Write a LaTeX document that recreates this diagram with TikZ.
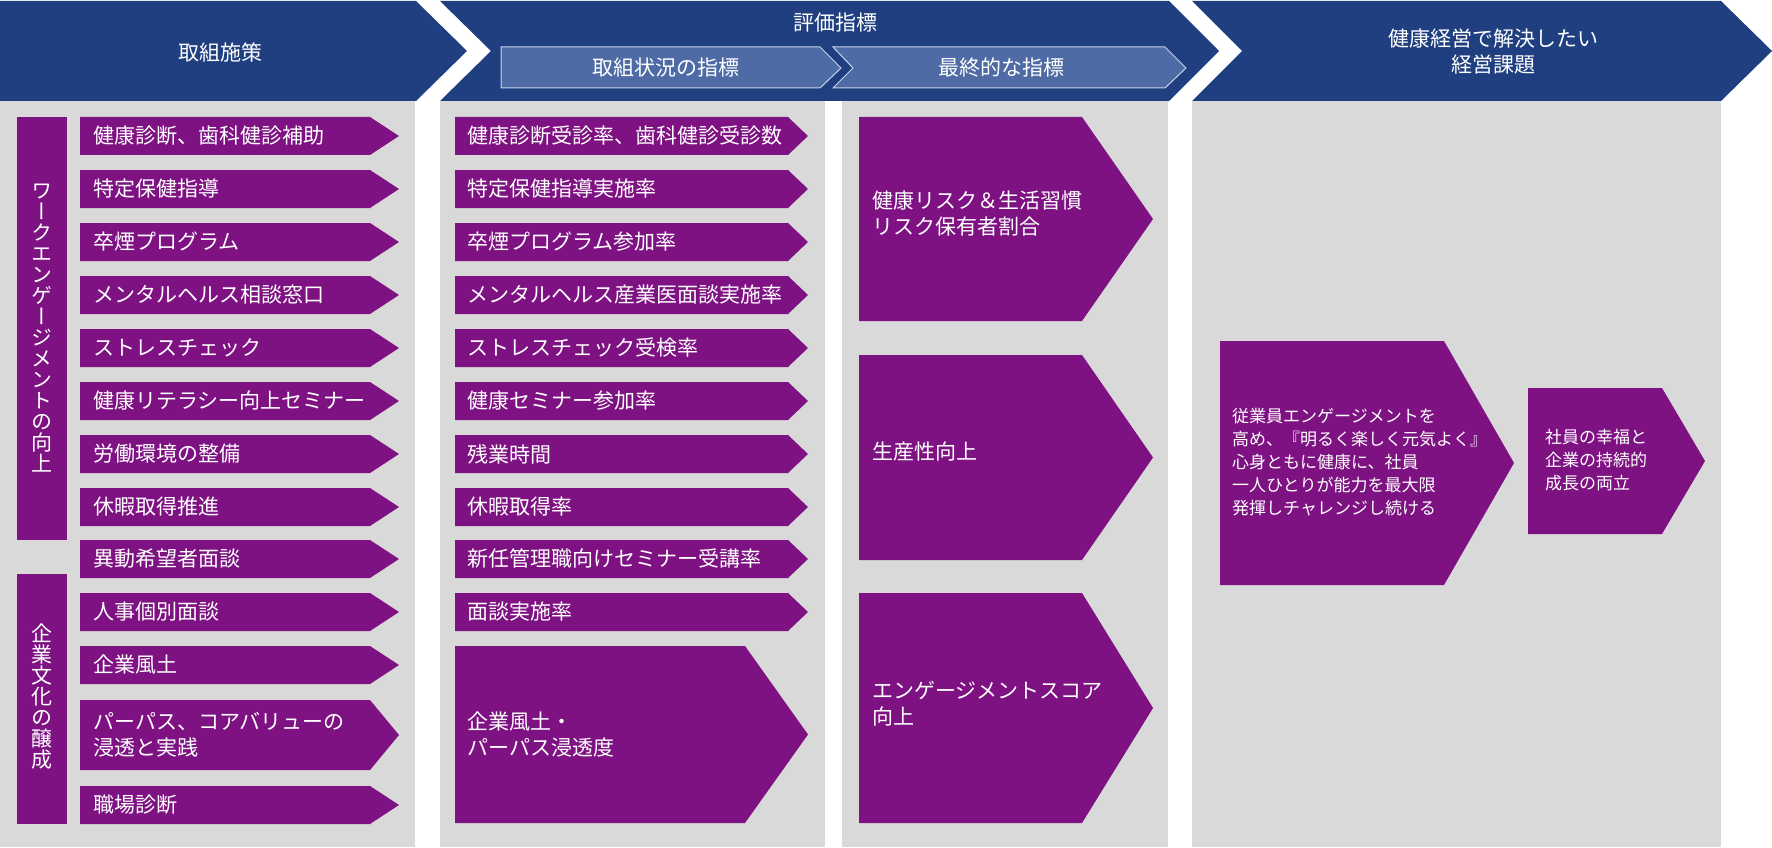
\documentclass[tikz,border=0pt]{standalone}
\usepackage{fontspec}
\setmainfont{Noto Sans CJK JP}
\newfontfamily\vjp[RawFeature=+vert]{Noto Sans CJK JP}
\usepackage{tikz}
\definecolor{colorHead}{HTML}{1F3F80}
\definecolor{colorSub}{HTML}{4E6BA5}
\definecolor{colorSubLine}{HTML}{C9D2E6}
\definecolor{colorItem}{HTML}{7F1283}
\definecolor{colorPanel}{HTML}{D9D9D9}
\tikzset{
   head/.style={fill=colorHead},
   sub/.style={fill=colorSub, draw=colorSubLine, line width=1pt},
   panel/.style={fill=colorPanel},
   item/.style={fill=colorItem},
   txt/.style={text=white, inner sep=0pt, align=left, anchor=west, font=\fontsize{21}{26}\selectfont},
   htxt/.style={text=white, inner sep=0pt, align=center, font=\fontsize{21}{26}\selectfont},
   stxt/.style={text=white, inner sep=0pt, align=left, anchor=west, font=\fontsize{17}{23}\selectfont},
   vtxt/.style={text=white, inner sep=0pt, align=center, font=\vjp\fontsize{21}{21}\selectfont},
}
% left, top, body end, tip, bottom
\newcommand{\arrbox}[6][item]{\fill[#1] (#2,#3) -- (#4,#3) -- (#5,{(#3+#6)/2}) -- (#4,#6) -- (#2,#6) -- cycle;}
\begin{document}
\begin{tikzpicture}[x=1pt, y=-1pt]
\useasboundingbox (0,0) rectangle (1772,848);

% header
\fill[head] (0,1) -- (416,1) -- (467,51) -- (416,101) -- (0,101) -- cycle;
\fill[head] (440,1) -- (1169,1) -- (1219,51) -- (1169,101) -- (440,101) -- (491,51) -- cycle;
\fill[head] (1192,1) -- (1721,1) -- (1772,51) -- (1721,101) -- (1192,101) -- (1242,51) -- cycle;
\draw[sub] (501,47) -- (820,47) -- (841,68) -- (820,88) -- (501,88) -- cycle;
\draw[sub] (833,47) -- (1165,47) -- (1186,68) -- (1165,88) -- (833,88) -- (853,68) -- cycle;

\node[htxt] (hAct) at (220,52) {取組施策};
\node[htxt] (hEval) at (835,23) {評価指標};
\node[htxt] (hSub1) at (666,68) {取組状況の指標};
\node[htxt] (hSub2) at (1001,68) {最終的な指標};
\node[htxt] (hGoal) at (1493,52) {健康経営で解決したい\\経営課題};

% panels
\fill[panel] (0,101) rectangle (415,847);
\fill[panel] (440,101) rectangle (825,847);
\fill[panel] (842,101) rectangle (1168,847);
\fill[panel] (1192,101) rectangle (1721,847);

% groups
\fill[item] (17,117) rectangle (67,540);
\fill[item] (17,574) rectangle (67,824);
\node[vtxt] (grpWE) at (42,328) {ワ\\ー\\ク\\エ\\ン\\ゲ\\ー\\ジ\\メ\\ン\\ト\\の\\向\\上};
\node[vtxt] (grpCult) at (42,697) {企\\業\\文\\化\\の\\醸\\成};

% actions
\arrbox{80}{117}{370}{399}{155}
\arrbox{80}{170}{370}{399}{208}
\arrbox{80}{223}{370}{399}{261}
\arrbox{80}{276}{370}{399}{314}
\arrbox{80}{329}{370}{399}{367}
\arrbox{80}{382}{370}{399}{420}
\arrbox{80}{435}{370}{399}{473}
\arrbox{80}{488}{370}{399}{526}
\arrbox{80}{540}{370}{399}{578}
\arrbox{80}{593}{370}{399}{631}
\arrbox{80}{646}{370}{399}{684}
\arrbox{80}{700}{370}{399}{770}
\arrbox{80}{786}{370}{399}{824}
\begin{scope}[every node/.style={txt}]
  \node (act1) at (93,136) {健康診断、歯科健診補助};
  \node (act2) at (93,189) {特定保健指導};
  \node (act3) at (93,242) {卒煙プログラム};
  \node (act4) at (93,295) {メンタルヘルス相談窓口};
  \node (act5) at (93,348) {ストレスチェック};
  \node (act6) at (93,401) {健康リテラシー向上セミナー};
  \node (act7) at (93,454) {労働環境の整備};
  \node (act8) at (93,507) {休暇取得推進};
  \node (act9) at (93,559) {異動希望者面談};
  \node (act10) at (93,612) {人事個別面談};
  \node (act11) at (93,665) {企業風土};
  \node (act12) at (93,735) {パーパス、コアバリューの\\浸透と実践};
  \node (act13) at (93,805) {職場診断};
\end{scope}

% process indicators
\arrbox{455}{117}{788}{808}{155}
\arrbox{455}{170}{788}{808}{208}
\arrbox{455}{223}{788}{808}{261}
\arrbox{455}{276}{788}{808}{314}
\arrbox{455}{329}{788}{808}{367}
\arrbox{455}{382}{788}{808}{420}
\arrbox{455}{435}{788}{808}{473}
\arrbox{455}{488}{788}{808}{526}
\arrbox{455}{540}{788}{808}{578}
\arrbox{455}{593}{788}{808}{631}
\arrbox{455}{646}{745}{808}{823}
\begin{scope}[every node/.style={txt}]
  \node (kpi1) at (467,136) {健康診断受診率、歯科健診受診数};
  \node (kpi2) at (467,189) {特定保健指導実施率};
  \node (kpi3) at (467,242) {卒煙プログラム参加率};
  \node (kpi4) at (467,295) {メンタルヘルス産業医面談実施率};
  \node (kpi5) at (467,348) {ストレスチェック受検率};
  \node (kpi6) at (467,401) {健康セミナー参加率};
  \node (kpi7) at (467,454) {残業時間};
  \node (kpi8) at (467,507) {休暇取得率};
  \node (kpi9) at (467,559) {新任管理職向けセミナー受講率};
  \node (kpi10) at (467,612) {面談実施率};
  \node (kpi11) at (467,735) {企業風土・\\パーパス浸透度};
\end{scope}

% final indicators
\arrbox{859}{117}{1082}{1153}{321}
\arrbox{859}{355}{1082}{1153}{560}
\arrbox{859}{593}{1082}{1153}{823}
\begin{scope}[every node/.style={txt}]
  \node (fin1) at (872,214) {健康リスク＆生活習慣\\リスク保有者割合};
  \node (fin2) at (872,451) {生産性向上};
  \node (fin3) at (872,704) {エンゲージメントスコア\\向上};
\end{scope}

% goals
\arrbox{1220}{341}{1444}{1514}{585}
\arrbox{1528}{388}{1662}{1705}{534}
\node[stxt] (goal1) at (1232,462) {従業員エンゲージメントを\\高め、『明るく楽しく元気よく』\\心身ともに健康に、社員\\一人ひとりが能力を最大限\\発揮しチャレンジし続ける};
\node[stxt] (goal2) at (1545,460) {社員の幸福と\\企業の持続的\\成長の両立};
\end{tikzpicture}
\end{document}
